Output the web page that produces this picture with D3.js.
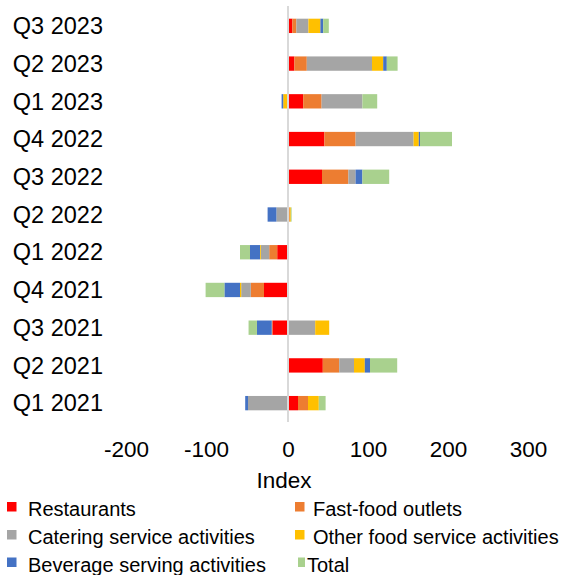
<!DOCTYPE html>
<html>
<head>
<meta charset="utf-8">
<script src="https://cdn.jsdelivr.net/npm/d3@7"></script>
<style>
  body { margin: 0; background: #fff; }
  text { font-family: "Liberation Sans", Arial, sans-serif; fill: #000; }
</style>
</head>
<body>
<div id="chart"></div>
<script>
// data (quarters oldest first)
var quarters = ["Q1 2021", "Q2 2021", "Q3 2021", "Q4 2021", "Q1 2022", "Q2 2022",
  "Q3 2022", "Q4 2022", "Q1 2023", "Q2 2023", "Q3 2023"];

var seriesNames = ["Restaurants", "Fast-food outlets", "Catering service activities",
  "Other food service activities", "Beverage serving activities", "Total"];

var restaurants = [12.5, 43.5, -19.5, -30, -13.5, 1.2, 42.5, 45.5, 19, 8, 5.5];
var fastFood = [12.5, 20.5, -0.8, -16.5, -10, 1, 33, 39, 23, 15.5, 5];
var catering = [-50, 18.5, 34, -12, -10.5, -14.5, 9, 72.5, 51, 81.5, 15];
var otherFood = [13.5, 13.5, 17.5, -1.5, -1, 1.3, 0, 6.5, -6, 14, 15];
var beverage = [-3.5, 6.5, -18.5, -19.5, -12.5, -11, 8.5, 1.5, -2, 4.5, 3.5];
var total = [8.5, 34, -10.5, -23.5, -12.5, 1, 33.5, 40, 18.5, 13.5, 7];

var xTicks = [-200, -100, 0, 100, 200, 300];
var colors = ["#ff0000", "#ed7d31", "#a5a5a5", "#ffc000", "#4472c4", "#a9d18e"];

var svgWidth = 561;
var svgHeight = 575;

var svg = d3.select("#chart")
  .append("svg")
  .attr("width", svgWidth)
  .attr("height", svgHeight);

var xScale = d3.scaleLinear()
  .domain([-200, 300])
  .range([128, 528]);

var yScale = d3.scaleBand()
  .domain(quarters.slice().reverse())
  .range([7, 422])
  .paddingInner(0.62)
  .paddingOuter(0.31);

// build rows for d3.stack
var allSeries = [restaurants, fastFood, catering, otherFood, beverage, total];
var rows = quarters.map(function(q, i) {
  var row = { quarter: q };
  seriesNames.forEach(function(name, j) {
    row[name] = allSeries[j][i];
  });
  return row;
});

var stacked = d3.stack()
  .keys(seriesNames)
  .offset(d3.stackOffsetDiverging)(rows);

var barGroups = svg.selectAll("g.series")
  .data(stacked)
  .enter()
  .append("g")
  .attr("class", "series")
  .attr("fill", (d, i) => colors[i]);

barGroups.selectAll("rect")
  .data(d => d)
  .enter()
  .append("rect")
  .attr("x", d => xScale(Math.min(d[0], d[1])))
  .attr("width", d => Math.abs(xScale(d[1]) - xScale(d[0])))
  .attr("y", d => yScale(d.data.quarter))
  .attr("height", yScale.bandwidth());

// zero line
svg.append("line")
  .attr("x1", xScale(0))
  .attr("x2", xScale(0))
  .attr("y1", 6)
  .attr("y2", 422)
  .attr("stroke", "#d9d9d9")
  .attr("stroke-width", 2);

// category labels
svg.append("g")
  .selectAll("text")
  .data(quarters)
  .enter()
  .append("text")
  .attr("x", 103)
  .attr("y", d => yScale(d) + yScale.bandwidth() / 2)
  .attr("dy", "0.35em")
  .attr("text-anchor", "end")
  .style("font-size", "23.5px")
  .text(d => d);

// x axis labels
var bottomAxis = d3.axisBottom(xScale)
  .tickValues(xTicks)
  .tickSize(0)
  .tickPadding(0)
  .tickFormat(d3.format("d"));

var xAxis = svg.append("g")
  .attr("transform", "translate(0, 441)")
  .call(bottomAxis);
xAxis.select(".domain").remove();
xAxis.selectAll("text")
  .attr("dy", "0.71em")
  .attr("dx", d => d < 0 ? -2 : 0)
  .style("font-size", "22.5px")
  .style("font-family", "'Liberation Sans', Arial, sans-serif")
  .text(d => d < 0 ? "-" + Math.abs(d) : d);

svg.append("text")
  .attr("x", 284)
  .attr("y", 488)
  .attr("text-anchor", "middle")
  .style("font-size", "22.5px")
  .text("Index");

// legend
var legendPos = [
  { x: 7, tx: 28, y: 502 },
  { x: 295, tx: 313, y: 502 },
  { x: 7, tx: 28, y: 530 },
  { x: 295, tx: 313, y: 530 },
  { x: 7, tx: 28, y: 557.5 },
  { x: 298, tx: 307, y: 557.5 }
];

var legend = svg.append("g")
  .selectAll("g")
  .data(seriesNames)
  .enter()
  .append("g");

legend.append("rect")
  .attr("x", (d, i) => legendPos[i].x)
  .attr("y", (d, i) => legendPos[i].y)
  .attr("width", (d, i) => i === 5 ? 7 : 9.5)
  .attr("height", 9.5)
  .attr("fill", (d, i) => colors[i]);

legend.append("text")
  .attr("x", (d, i) => legendPos[i].tx)
  .attr("y", (d, i) => legendPos[i].y + 14)
  .style("font-size", "20px")
  .text(d => d);
</script>
</body>
</html>
